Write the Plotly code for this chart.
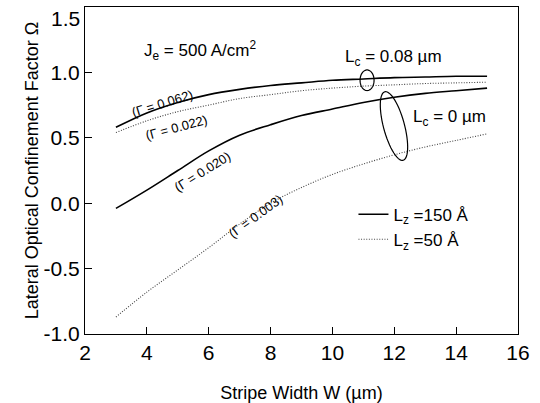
import numpy as np
import plotly.graph_objects as go

# ---- data ----
stripe_width = [3, 4, 5, 6, 7, 8, 9, 10, 11, 12, 13, 14, 15]
omega_lz150_lc008 = [0.58, 0.69, 0.77, 0.83, 0.87, 0.90, 0.92, 0.94, 0.95, 0.96, 0.965, 0.97, 0.97]
omega_lz50_lc008 = [0.54, 0.63, 0.70, 0.75, 0.80, 0.83, 0.86, 0.88, 0.895, 0.905, 0.915, 0.92, 0.925]
omega_lz150_lc0 = [-0.04, 0.10, 0.25, 0.40, 0.52, 0.60, 0.67, 0.72, 0.77, 0.81, 0.84, 0.86, 0.88]
omega_lz50_lc0 = [-0.87, -0.68, -0.51, -0.34, -0.16, 0.00, 0.12, 0.22, 0.30, 0.37, 0.43, 0.48, 0.53]

x_ticks = [2, 4, 6, 8, 10, 12, 14, 16]
y_ticks = [-1.0, -0.5, 0.0, 0.5, 1.0, 1.5]
x_range = [2, 16]
y_range = [-1.0, 1.5]

FONT = "Liberation Sans, Arial, sans-serif"
W, H = 540, 403
ML, MR, MT, MB = 85, 22, 7, 69
px_per_x = (W - ML - MR) / (x_range[1] - x_range[0])
px_per_y = (H - MT - MB) / (y_range[1] - y_range[0])

fig = go.Figure()
solid = dict(color="black", width=1.6)
dotted = dict(color="#444444", width=1.1, dash="1px,1.6px")

fig.add_trace(go.Scatter(x=stripe_width, y=omega_lz150_lc008, mode="lines", line=solid,
                         line_shape="spline", name="L<sub>z</sub> =150 Å", legendgroup="a"))
fig.add_trace(go.Scatter(x=stripe_width, y=omega_lz50_lc008, mode="lines", line=dotted,
                         line_shape="spline", name="L<sub>z</sub> =50 Å", legendgroup="b"))
fig.add_trace(go.Scatter(x=stripe_width, y=omega_lz150_lc0, mode="lines", line=solid,
                         line_shape="spline", showlegend=False, legendgroup="a"))
fig.add_trace(go.Scatter(x=stripe_width, y=omega_lz50_lc0, mode="lines", line=dotted,
                         line_shape="spline", showlegend=False, legendgroup="b"))


def ellipse_path(xc, yc, a_px, b_px, ux, uy):
    # a_px along (ux, uy) in pixel space (y down), b_px perpendicular
    t = np.linspace(0, 2 * np.pi, 60)
    vx, vy = -uy, ux
    dx = a_px * np.cos(t) * ux + b_px * np.sin(t) * vx
    dy = a_px * np.cos(t) * uy + b_px * np.sin(t) * vy
    xs = xc + dx / px_per_x
    ys = yc - dy / px_per_y
    return "M " + " L ".join(f"{a:.4f},{b:.4f}" for a, b in zip(xs, ys)) + " Z"


# ellipses marking the L_c groups
fig.add_shape(type="path", path=ellipse_path(11.12, 0.94, 10.3, 7.0, 0.0, 1.0),
              line=dict(color="black", width=1.2), xref="x", yref="y")
fig.add_shape(type="path", path=ellipse_path(11.99, 0.59, 35.5, 10.5, 0.259, 0.965),
              line=dict(color="black", width=1.2), xref="x", yref="y")

ann = []
ann.append(dict(x=5.72, y=1.17, text="J<sub>e</sub> = 500 A/cm<sup>2</sup>", font=dict(size=17)))
ann.append(dict(x=11.96, y=1.11, text="L<sub>c</sub> = 0.08 µm", font=dict(size=17)))
ann.append(dict(x=13.77, y=0.65, text="L<sub>c</sub> = 0 µm", font=dict(size=17)))
ann.append(dict(x=4.49, y=0.76, text="(Γ = 0.062)", textangle=-17, font=dict(size=13)))
ann.append(dict(x=4.97, y=0.575, text="(Γ = 0.022)", textangle=-15, font=dict(size=13)))
ann.append(dict(x=5.81, y=0.24, text="(Γ = 0.020)", textangle=-32, font=dict(size=13)))
ann.append(dict(x=7.5, y=-0.10, text="(Γ = 0.003)", textangle=-36, font=dict(size=13)))
for a in ann:
    a.update(xref="x", yref="y", showarrow=False)
    a["font"].update(family=FONT, color="black")
    fig.add_annotation(**a)

# top y tick label sits just below the frame edge (as in the reference)
y_top_label = f"{y_ticks[-1]:.1f}"
fig.add_annotation(x=0, xref="paper", y=y_ticks[-1], yref="y", text=y_top_label,
                   xanchor="right", yanchor="top", xshift=-3, yshift=2, showarrow=False,
                   font=dict(family=FONT, size=21, color="black"))

axis_common = dict(showgrid=False, zeroline=False, showline=True, linecolor="black",
                   linewidth=1.3, mirror=True, ticks="inside", ticklen=7, tickcolor="black",
                   automargin=False, ticklabeloverflow="allow",
                   tickfont=dict(family=FONT, size=21, color="black"))

fig.update_xaxes(range=x_range, tickvals=x_ticks, ticktext=[str(v) for v in x_ticks],
                 title=dict(text="Stripe Width W (µm)", font=dict(family=FONT, size=18, color="black"),
                            standoff=26),
                 **axis_common)
fig.update_yaxes(range=y_range, tickvals=y_ticks,
                 ticktext=[f"{v:.1f}" for v in y_ticks[:-1]] + [""],
                 title=dict(text="Lateral Optical Confinement Factor Ω",
                            font=dict(family=FONT, size=18, color="black"), standoff=0),
                 **axis_common)

fig.update_layout(
    width=W, height=H,
    margin=dict(l=ML, r=MR, t=MT, b=MB),
    paper_bgcolor="white", plot_bgcolor="white",
    font=dict(family=FONT, color="black"),
    legend=dict(x=0.62, y=0.42, xanchor="left", yanchor="top",
                font=dict(family=FONT, size=17, color="black"),
                bgcolor="rgba(0,0,0,0)", tracegroupgap=0),
)

fig.write_html("out.html", config={"displayModeBar": False},
               post_script="document.body.style.margin='0';")
